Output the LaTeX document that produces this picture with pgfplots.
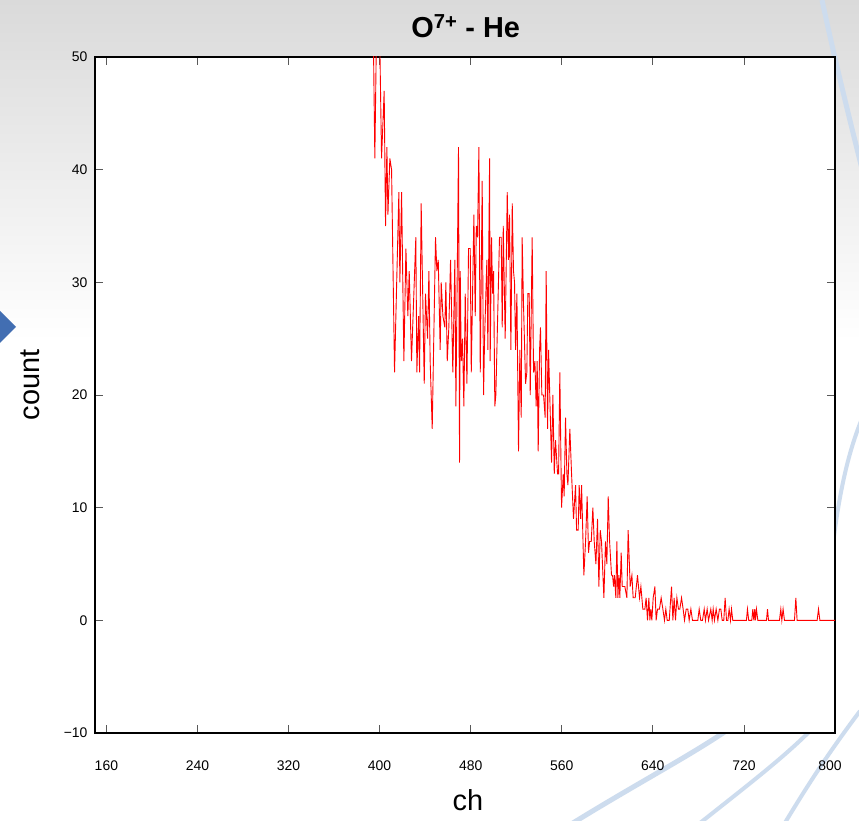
\documentclass[border=0pt]{standalone}
\usepackage{fontspec}
\setmainfont{Liberation Sans}
\usepackage{pgfplots}
\pgfplotsset{compat=1.18}
\pgfplotstableread{
x y
385 150
390 90
393.5 60
395.8 41
397.6 55
399.9 53
401.7 41
404.0 47
405.2 35
406.4 42
407.3 36
409.0 41
410.5 40
413.1 22
416.9 38
417.8 30
419.3 38
421.3 23
423.1 33
424.8 27
426.0 31
428.0 23
431.8 34
432.7 22
434.2 27
435.1 22
436.5 37
438.0 28
439.2 21
440.3 29
442.1 25
443.3 31
444.4 23
446.2 17
449.1 34
450.3 31
451.5 32
453.2 24
454.1 30
455.6 27
457.3 26
458.2 30
459.4 23
460.8 26
462.3 32
464.3 22
466.1 32
467.0 19
469.3 42
470.2 14
470.8 31
471.7 23
472.8 25
474.0 19
475.2 29
476.7 21
478.1 33
479.6 33
480.5 22
482.8 36
484.0 27
484.9 35
486.0 34
487.2 42
488.4 22
490.1 39
491.3 20
492.2 25
494.2 32
495.1 24
496.6 41
497.1 23
498.3 34
499.2 29
500.1 31
501.2 19
502.1 20
505.3 34
506.8 34
507.7 26
508.6 35
510.3 25
512.1 38
513.2 32
514.1 36
515.3 24
516.5 37
517.6 31
518.5 30
519.4 24
520.6 29
522.0 15
523.2 24
524.4 18
525.2 34
526.4 28
528.2 21
529.3 22
530.2 29
531.4 29
532.3 20
534.0 34
535.2 22
536.4 23
537.5 19
538.4 23
539.3 15
540.5 24
541.3 26
542.5 20
544.0 20
545.4 18
546.3 31
547.5 17
548.4 24
551.0 14
552.2 20
553.4 13
554.5 16
556.3 13
557.2 13
558.3 22
559.8 10
561.3 13
562.1 11
563.3 18
564.5 13
565.4 12
567.1 17
568.6 13
570.3 9
572.1 12
573.0 8
574.4 8
575.3 12
576.5 9
577.4 12
579.4 4
580.9 7
582.3 11
583.5 6
584.4 7
585.9 7
587.3 10
588.5 7
590.0 5
591.4 9
592.6 3
593.8 8
594.9 7
597.0 2
598.4 7
599.6 5
600.8 11
602.0 7
603.7 4
604.6 4
605.5 3
606.3 4
607.5 2
608.4 7
609.3 2
610.2 4
611.0 2
612.2 6
613.1 3
615.4 3
617.2 2
618.3 8
620.1 3
621.6 4
622.7 2
624.5 2
626.5 4
628.3 2
629.5 3
631.2 1
633.0 1
634.1 2
635.3 0
636.5 2
637.4 0
638.2 1
639.1 0
640.3 2
641.8 3
642.9 0
644.1 1
645.8 1
647.3 2
648.8 1
650.2 0
651.4 1
652.6 0
654.4 0
656.4 3
657.6 0
658.7 2
659.9 0
661.1 2
662.5 1
663.7 1
665.2 2
666.6 1
667.8 0
669.3 1
670.7 1
671.9 0
673.4 1
674.8 0
679.5 0
680.7 1
682.1 0
683.6 0
685.1 1
686.2 0
687.7 1
688.9 0
690.9 1
692.1 0
693.0 1
694.1 0
695.6 1
697.1 0
698.5 1
699.7 1
700.9 0
702.3 0
703.5 2
704.7 0
705.9 0
707.0 1
708.2 0
709.1 1
710.2 0
722.2 0
723.1 1
724.2 0
726.9 0
727.8 1
728.7 0
729.5 1
730.1 0
731.0 1
732.2 0
739.8 0
740.7 1
741.6 0
751.2 0
752.4 1
753.3 0
754.4 1
755.6 0
764.4 0
765.6 2
766.7 0
784.3 0
785.5 1
786.7 0
800 0
}\spectrum
\definecolor{deco}{RGB}{205,220,238}
\definecolor{diam}{RGB}{66,110,178}
\begin{document}
\begin{tikzpicture}
\useasboundingbox (0,0) rectangle (859bp,821bp);
\fill[white] (0,0) rectangle (859bp,821bp);
\shade[top color={rgb,255:red,218;green,218;blue,218}, bottom color=white] (0,480bp) rectangle (859bp,821bp);
\begin{scope}
\clip (0,0) rectangle (859bp,821bp);
\draw[deco, line width=5bp] (822bp,821bp) .. controls (835bp,760bp) and (850bp,700bp) .. (870bp,620bp);
\draw[deco, line width=4bp] (870bp,420bp) .. controls (850bp,380bp) and (838bp,330bp) .. (830bp,250bp);
\draw[deco, line width=5bp] (560bp,-10bp) .. controls (640bp,40bp) and (700bp,70bp) .. (740bp,100bp);
\draw[deco, line width=4bp] (690bp,-10bp) .. controls (740bp,30bp) and (780bp,60bp) .. (810bp,90bp);
\draw[deco, line width=4bp] (780bp,-10bp) .. controls (810bp,40bp) and (830bp,70bp) .. (860bp,110bp);
\fill[diam] (-3bp,513bp) -- (16bp,494bp) -- (-3bp,475bp) -- (-22bp,494bp) -- cycle;
\end{scope}
\begin{axis}[
 at={(95bp,88bp)}, anchor=south west,
 scale only axis, width=740bp, height=676bp,
 xmin=150, xmax=800, ymin=-10, ymax=50,
 xtick={160,240,320,400,480,560,640,720,800},
 xticklabels={160,240,320,400,480,560,640,720,\hspace*{-10bp}800},
 ytick={-10,0,10,20,30,40,50},
 yticklabels={−10,0,10,20,30,40,50},
 tick align=inside, major tick length=8bp,
 axis line style={line width=1.6bp, black},
 every tick/.style={black!65, line width=0.8bp},
 tick label style={font=\fontsize{14}{16}\selectfont},
 /pgf/number format/assume math mode=true,
 /pgf/number format/1000 sep={},
 xticklabel style={yshift=-24bp},
 yticklabel style={xshift=-4bp},
 axis background/.style={fill=white},
 title={\textbf{O\textsuperscript{7+} - He}},
 title style={font=\fontsize{29}{33}\selectfont, at={(axis description cs:0.501,1.037)}, anchor=center},
 xlabel={ch},
 xlabel style={font=\fontsize{29}{33}\selectfont, at={(axis description cs:0.504,-0.100)}, anchor=center},
 ylabel={count},
 ylabel style={font=\fontsize{29}{33}\selectfont, at={(axis description cs:-0.088,0.515)}, anchor=center},
 clip=true,
]
\addplot[red, line width=0.9bp, mark=none] table[x=x, y=y] {\spectrum};
\end{axis}
\end{tikzpicture}
\end{document}
